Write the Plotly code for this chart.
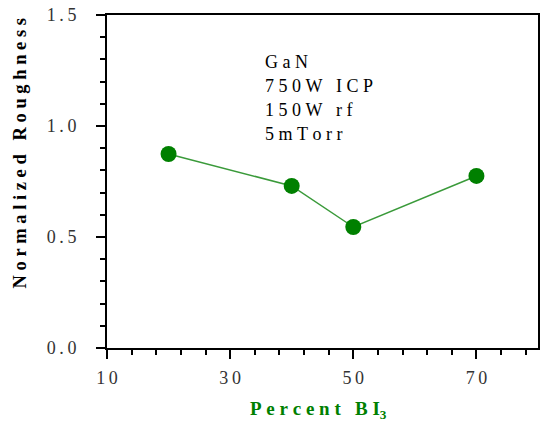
import plotly.graph_objects as go

# Roughness vs. BI3 fraction
percent_bi3 = [20, 40, 50, 70]
roughness = [0.874, 0.73, 0.545, 0.775]

TS = "\u2009"  # thin space for letter-spaced tick labels
NB = "\u00a0"  # non-breaking space

x_tick_vals = [10, 30, 50, 70]
x_tick_text = [TS.join(str(v)) for v in x_tick_vals]
y_tick_vals = [0.0, 0.5, 1.0, 1.5]
y_tick_text = [TS.join(f"{v:.1f}") for v in y_tick_vals]

conditions = ["GaN", "750W ICP", "150W rf", "5mTorr"]

GREEN = "#008000"
SERIF = "Liberation Serif, Times New Roman, serif"


def spaced(s):
    return NB.join(s.replace(" ", NB))


fig = go.Figure()
fig.add_trace(go.Scatter(
    x=percent_bi3, y=roughness, mode="lines+markers",
    line=dict(color="#3a9a3a", width=1.5),
    marker=dict(color=GREEN, size=16, symbol="circle"),
    showlegend=False,
))

axis_common = dict(
    showline=True, linecolor="black", linewidth=2, mirror=True,
    showgrid=False, zeroline=False,
    ticks="outside", tickcolor="black", tickwidth=2, ticklen=9,
    tickfont=dict(family=SERIF, size=18, color="#333333"),
)

fig.update_xaxes(
    range=[10, 80], tickvals=x_tick_vals, ticktext=x_tick_text,
    minor=dict(dtick=4, tick0=10, ticks="outside", ticklen=5, tickwidth=2, tickcolor="black"),
    ticklabelstandoff=3,
    **axis_common,
)
fig.update_yaxes(
    range=[0, 1.5], tickvals=y_tick_vals, ticktext=y_tick_text,
    minor=dict(dtick=0.1, tick0=0, ticks="outside", ticklen=5, tickwidth=2, tickcolor="black"),
    ticklabelstandoff=16,
    **axis_common,
)

# plot-area edges in pixels, used to place the free text
L, R, T, B = 107, 540, 15, 348


def dom_x(px):
    return (px - L) / (R - L)


def dom_y(py):
    return (B - py) / (B - T)


annotations = []
for i, line in enumerate(conditions):
    annotations.append(dict(
        x=dom_x(264), y=dom_y(62 + 24 * i), xref="x domain", yref="y domain",
        text=spaced(line), showarrow=False, xanchor="left", yanchor="middle",
        font=dict(family=SERIF, size=18, color="black"),
    ))

annotations.append(dict(
    x=dom_x(20), y=dom_y(153), xref="x domain", yref="y domain",
    text="<b>" + spaced("Normalized Roughness") + "</b>", showarrow=False,
    textangle=-90, xanchor="center", yanchor="middle",
    font=dict(family=SERIF, size=18.5, color="black"),
))
annotations.append(dict(
    x=dom_x(319), y=dom_y(410), xref="x domain", yref="y domain",
    text="<b>" + spaced("Percent BI") + "<sub>3</sub></b>", showarrow=False,
    xanchor="center", yanchor="middle",
    font=dict(family=SERIF, size=19, color=GREEN),
))

fig.update_layout(
    width=543, height=430,
    margin=dict(l=L, r=543 - R, t=T, b=430 - B),
    paper_bgcolor="white", plot_bgcolor="white",
    annotations=annotations,
)

fig.write_html("out.html")
